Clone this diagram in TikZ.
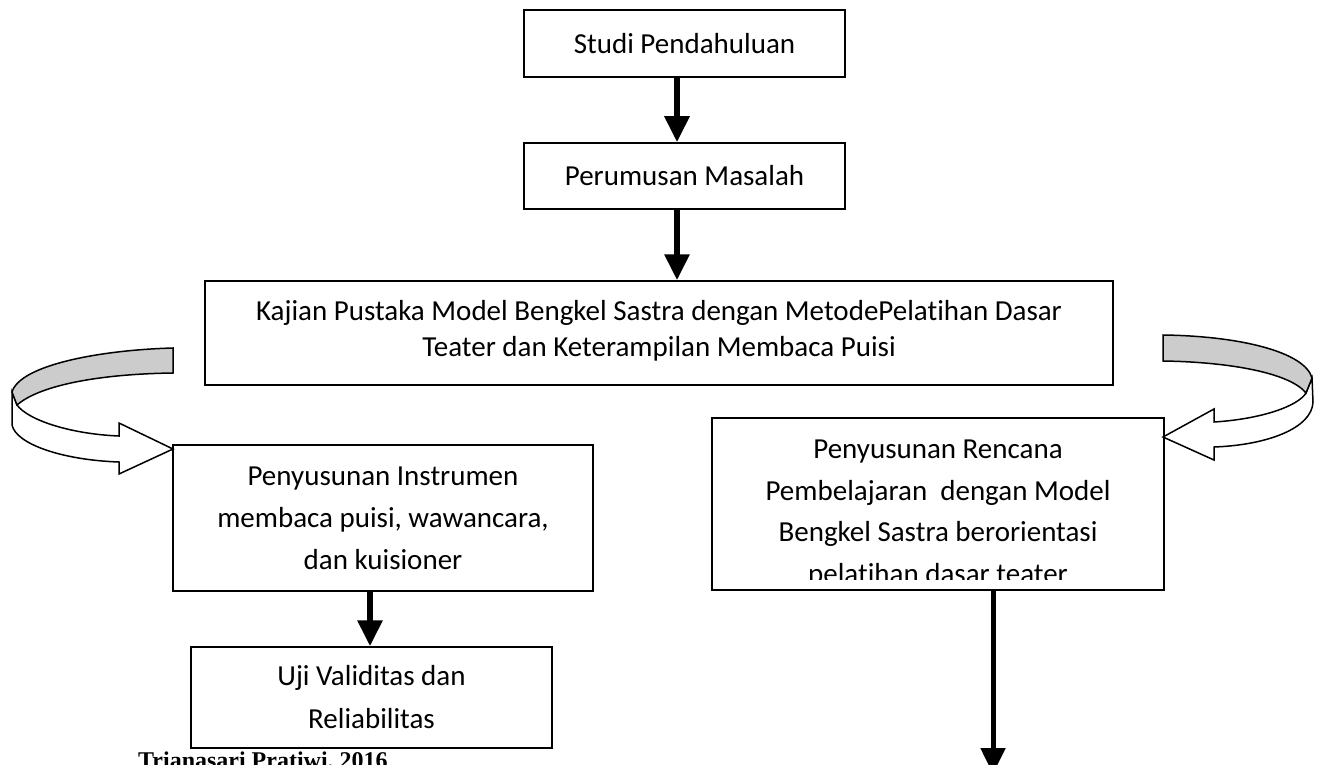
\documentclass[tikz,border=0pt]{standalone}
\usepackage{fontspec}
\setmainfont{Carlito}[Ligatures=NoCommon]
\newfontfamily\footfont{Liberation Serif}
\usetikzlibrary{arrows.meta,calc}
\begin{document}
\begin{tikzpicture}[x=1pt,y=-1pt,
  box/.style={draw,line width=1.5pt,rectangle,inner sep=0pt,align=center,
    font=\fontsize{29}{41}\selectfont},
  txt/.style={align=center,inner sep=0pt,font=\fontsize{29}{41.5}\selectfont},
  flow/.style={line width=6pt,-{Triangle[width=24pt,length=26pt]}},
  bendband/.style={draw=black,line width=1.5pt,line join=miter}]
\useasboundingbox (0,0) rectangle (1320,765);
\clip (0,0) rectangle (1320,765);

% boxes
\node[box,minimum width=321pt,minimum height=67pt] (b1) at (684.5,43.5) {Studi Pendahuluan};
\node[box,minimum width=321pt,minimum height=66pt] (b2) at (684.5,176) {Perumusan Masalah};
\node[box,minimum width=908pt,minimum height=104pt] (b3) at (659,333) {};
\node[txt,font=\fontsize{29}{36}\selectfont] (t3) at (659,331)
  {Kajian Pustaka Model Bengkel Sastra dengan MetodePelatihan Dasar\\Teater dan Keterampilan Membaca Puisi};
\node[box,minimum width=420pt,minimum height=146pt,font=\fontsize{29}{42}\selectfont] (b4) at (383,518)
  {Penyusunan Instrumen\\membaca puisi, wawancara,\\dan kuisioner};
\node[box,minimum width=361pt,minimum height=101pt,font=\fontsize{29}{43}\selectfont] (b5) at (371.5,697.5)
  {Uji Validitas dan\\Reliabilitas};
\node[box,minimum width=452pt,minimum height=172pt] (b6) at (938,504) {};
\begin{scope}
  \clip (712,418) rectangle (1164,579);
  \node[txt] (t6) at (938,514)
    {Penyusunan Rencana\\Pembelajaran\ \ dengan Model\\Bengkel Sastra berorientasi\\pelatihan dasar teater};
\end{scope}

% straight arrows
\coordinate (a1) at ($(b1.south)+(-7.5,0)$);
\draw[flow] (a1) -- (a1 |- b2.north);
\coordinate (a2) at ($(b2.south)+(-7.5,0)$);
\draw[flow] (a2) -- (a2 |- b3.north);
\coordinate (a3) at ($(b4.south)+(-13,0)$);
\draw[flow] (a3) -- (a3 |- b5.north);
\coordinate (a4) at ($(b6.south)+(55,0)$);
\coordinate (e4) at (993,774);
\draw[flow,line width=5pt] (a4) -- (e4);

% left curved arrow
\path[bendband,fill=white] (12,392) -- (12,425) .. controls (16,444) and (62,460) .. (119,462)
  -- (119,474) -- (173,449) -- (119,423) -- (119,436)
  .. controls (70,434) and (28,420) .. (17,405) -- cycle;
\path[bendband,fill=black!20] (173,348) .. controls (100,350) and (20,365) .. (12,392)
  -- (17,405) .. controls (40,385) and (100,374) .. (173,373) -- cycle;

% right curved arrow
\path[bendband,fill=white] (1312,378) -- (1313,402) .. controls (1312,428) and (1268,445) .. (1214,447)
  -- (1214,460) -- (1163,437) -- (1214,409) -- (1214,422)
  .. controls (1262,419) and (1298,406) .. (1306,393) -- cycle;
\path[bendband,fill=black!20] (1163,335) .. controls (1240,336) and (1305,352) .. (1312,378)
  -- (1306,393) .. controls (1290,373) and (1230,362) .. (1163,361) -- cycle;

% footer
\node[font=\footfont\bfseries\fontsize{24}{28}\selectfont,anchor=base west,inner sep=0pt] (foot)
  at (138,768) {Trianasari Pratiwi, 2016};
\end{tikzpicture}
\end{document}
